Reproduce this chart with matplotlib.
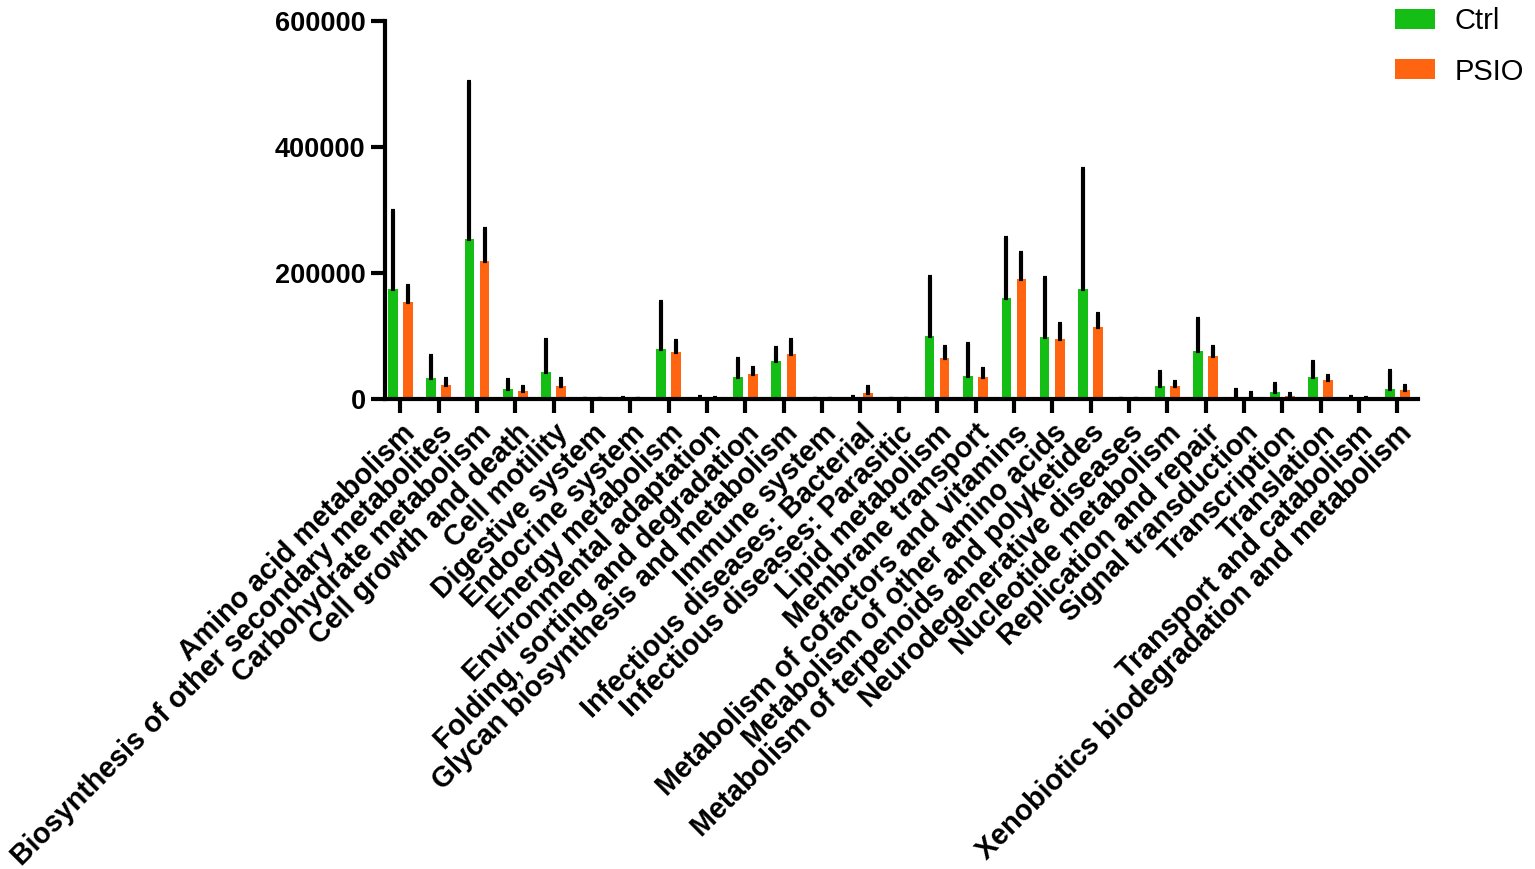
import numpy as np
import matplotlib
matplotlib.use("Agg")
import matplotlib.pyplot as plt

plt.rcParams['font.family'] = ['Liberation Sans', 'DejaVu Sans']

categories = [
    "Amino acid metabolism",
    "Biosynthesis of other secondary metabolites",
    "Carbohydrate metabolism",
    "Cell growth and death",
    "Cell motility",
    "Digestive system",
    "Endocrine system",
    "Energy metabolism",
    "Environmental adaptation",
    "Folding, sorting and degradation",
    "Glycan biosynthesis and metabolism",
    "Immune system",
    "Infectious diseases: Bacterial",
    "Infectious diseases: Parasitic",
    "Lipid metabolism",
    "Membrane transport",
    "Metabolism of cofactors and vitamins",
    "Metabolism of other amino acids",
    "Metabolism of terpenoids and polyketides",
    "Neurodegenerative diseases",
    "Nucleotide metabolism",
    "Replication and repair",
    "Signal transduction",
    "Transcription",
    "Translation",
    "Transport and catabolism",
    "Xenobiotics biodegradation and metabolism",
]

ctrl_mean = [174500, 33300, 253800, 16800, 42800, 300, 800, 79500, 1000, 35800,
             61200, 200, 600, 100, 100400, 37000, 161200, 99000, 174900, 200,
             21700, 76100, 4000, 11100, 36000, 800, 15900]
ctrl_err = [124500, 35400, 249400, 13800, 51200, 500, 1500, 75300, 3000, 27600,
            20600, 300, 2500, 200, 94100, 50200, 94600, 93400, 191000, 300,
            21100, 51900, 11400, 12700, 23200, 2400, 29000]
psio_mean = [153800, 22700, 219800, 13600, 21100, 100, 300, 75500, 500, 39700,
             72300, 100, 10500, 100, 66000, 35400, 190300, 95600, 114700, 100,
             21700, 69300, 3700, 4800, 31200, 300, 14800]
psio_err = [25900, 9000, 49800, 5400, 10600, 200, 500, 17000, 1000, 10400,
            21700, 200, 9500, 100, 17400, 12600, 41300, 23800, 20600, 200,
            5700, 13200, 6300, 3600, 5800, 1200, 6900]

green = '#14BE14'
orange = '#FF6410'

fig = plt.figure(figsize=(15.35, 8.69), dpi=100)
ax = fig.add_axes([0.2508, 0.5405, 0.6730, 0.4353])

x = np.arange(len(categories))
w = 0.25
off = 0.196
ekw = dict(ecolor='black', elinewidth=3, capsize=1.5, capthick=3)

ax.bar(x - off, ctrl_mean, w, color=green, label='Ctrl', zorder=2,
       yerr=[np.zeros(len(x)), ctrl_err], error_kw=ekw)
ax.bar(x + off, psio_mean, w, color=orange, label='PSIO', zorder=2,
       yerr=[np.zeros(len(x)), psio_err], error_kw=ekw)

ax.set_xlim(-0.4, 26.54)
ax.set_ylim(0, 600000)
ax.set_yticks([0, 200000, 400000, 600000])
ax.set_yticklabels(['0', '200000', '400000', '600000'], fontsize=19.5, fontweight='bold')
ax.set_xticks(x)
ax.set_xticklabels(categories, rotation=45, ha='right', rotation_mode='anchor',
                   fontsize=20.6, fontweight='bold')

for s in ['top', 'right']:
    ax.spines[s].set_visible(False)
for s in ['left', 'bottom']:
    ax.spines[s].set_linewidth(3)
ax.tick_params(axis='both', width=3, length=10, direction='out')
ax.tick_params(axis='y', pad=4)
ax.tick_params(axis='x', pad=4)

fig.legend(loc='upper left', bbox_to_anchor=(0.9088, 0.992), frameon=False,
           fontsize=21, handlelength=1.37, handleheight=0.68, handletextpad=0.68,
           labelspacing=0.78, borderpad=0, borderaxespad=0)

fig.savefig('out.png', dpi=100)
